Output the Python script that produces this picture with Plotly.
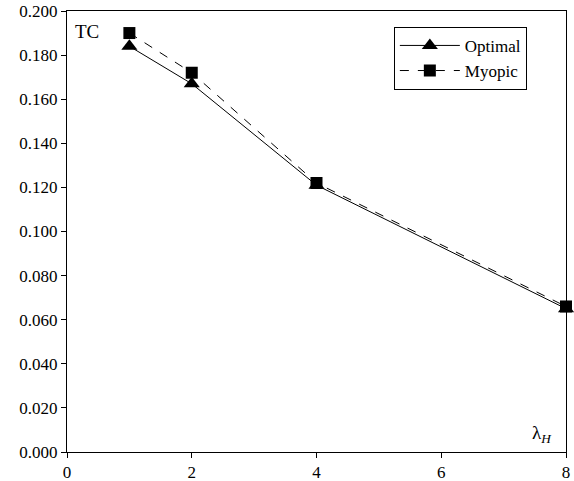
import plotly.graph_objects as go

lam = [1, 2, 4, 8]
optimal = [0.184, 0.167, 0.121, 0.065]
myopic = [0.190, 0.172, 0.122, 0.066]

fig = go.Figure()
fig.add_trace(go.Scatter(x=lam, y=optimal, name="Optimal", mode="lines+markers",
                         line=dict(color="black", width=1, dash="solid"),
                         marker=dict(symbol="triangle-up", size=14, color="black"),
                         cliponaxis=False))
fig.add_trace(go.Scatter(x=lam, y=myopic, name="Myopic", mode="lines+markers",
                         line=dict(color="black", width=1, dash="dash"),
                         marker=dict(symbol="square", size=12, color="black"),
                         cliponaxis=False))

fam = "Liberation Serif"
font = dict(family=fam, size=17, color="black")
fig.update_layout(
    width=574, height=481,
    margin=dict(l=67, r=8, t=11, b=29, autoexpand=False),
    paper_bgcolor="white", plot_bgcolor="white",
    font=font,
    showlegend=True,
    legend=dict(x=0.655, y=0.964, xanchor="left", yanchor="top",
                bordercolor="black", borderwidth=1, bgcolor="white",
                itemwidth=60, font=dict(family=fam, size=17, color="black"), tracegroupgap=2),
    xaxis=dict(range=[0, 8], dtick=2, tick0=0, showgrid=False, zeroline=False,
               showline=True, linecolor="black", linewidth=1, mirror=True,
               ticks="outside", ticklen=5, tickcolor="black", automargin=False,
               tickfont=dict(family=fam, size=17, color="black")),
    yaxis=dict(range=[0, 0.2], dtick=0.02, tick0=0, tickformat=".3f", showgrid=False,
               zeroline=False, showline=True, linecolor="black", linewidth=1, mirror=True,
               ticks="outside", ticklen=5, tickcolor="black", automargin=False,
               tickfont=dict(family=fam, size=17, color="black")),
    annotations=[
        dict(text="TC", xref="paper", yref="paper", x=0.013, y=0.982,
             xanchor="left", yanchor="top", showarrow=False,
             font=dict(size=19, family=fam, color="black")),
        dict(text="λ<sub><i>H</i></sub>", xref="paper", yref="paper", x=0.975, y=0.01,
             xanchor="right", yanchor="bottom", showarrow=False,
             font=dict(size=19, family=fam, color="black")),
    ],
)
fig.write_html("out.html")
